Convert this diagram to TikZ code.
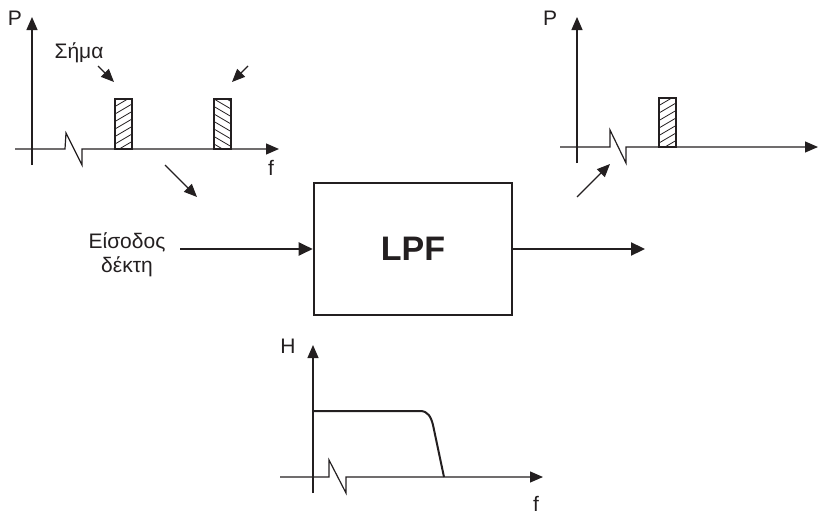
\documentclass[tikz,border=0pt]{standalone}
\usepackage{fontspec}
\setmainfont{Liberation Sans}
\usepackage{xcolor}
\usetikzlibrary{arrows.meta}
\definecolor{ink}{RGB}{35,31,32}

\begin{document}
\begin{tikzpicture}[x=1pt, y=-1pt, color=ink, >={Triangle[length=13pt,width=11pt]},
    axis/.style={line width=1.2pt},
    lbl/.style={font=\fontsize{21}{25}\selectfont, anchor=base, inner sep=0pt},
    pointer/.style={->, line width=1.3pt},
    signal/.style={line width=2.3pt, -{Triangle[length=14pt,width=13pt]}},
    filterbox/.style={draw, line width=2.6pt, minimum width=198pt, minimum height=132pt,
      font=\fontsize{34}{40}\selectfont\bfseries}]
    \useasboundingbox (0,0) rectangle (820,514);
    \pgfmathsetmacro{\bw}{17}
    \draw[axis,->] (32,165) -- (32,17);
    \draw[axis,->] (15,149) -- (65,149) -- (66,133) -- (82,165) -- (82,149) -- (279,149);
    \draw[axis,->] (577,163) -- (577,17);
    \draw[axis,->] (560,147) -- (610,147) -- (610,130) -- (626,163) -- (626,147) -- (818,147);
    \draw[axis,->] (313,493) -- (313,345);
    \draw[axis,->] (280,477) -- (329,477) -- (329,460) -- (346,493) -- (346,477) -- (543,477);
    \foreach \bx/\bt/\bb/\s in {115/99/149/1, 214/99/149/-1, 659/98/147/1} {
      \begin{scope}
        \clip (\bx,\bt) rectangle ({\bx+\bw},\bb);
        \foreach \k in {-2,...,9}
          \draw[line width=0.8pt] (\bx,{\bt+\k*7.5}) -- ++(\bw,{-\s*10});
      \end{scope}
      \draw[axis] (\bx,\bt) rectangle ({\bx+\bw},\bb);
    }
    \draw[line width=2pt] (313,411) -- (420,411)
      .. controls (428,411) and (431,417) .. (433,425) -- (444,477);
    \node[lbl] (pleft) at (15,25) {P};
    \node[lbl] (sigma) at (79,58) {Σήμα};
    \node[lbl] (fleft) at (271,175) {f};
    \node[lbl] (pright) at (550,25) {P};
    \node[lbl] (hlow) at (288,353) {H};
    \node[lbl] (flow) at (536,511) {f};
    \node[lbl] (inword) at (127,248) {Είσοδος};
    \node[lbl] (rxword) at (127,272) {δέκτη};
    \node[filterbox] (lpf) at (413,249) {LPF};
    \coordinate (src) at (180,249);
    \coordinate (dst) at (645,249);
    \draw[signal] (src) -- (lpf.west);
    \draw[signal] (lpf.east) -- (dst);
    \coordinate (p1a) at (98,66);
    \coordinate (p1b) at (114,82);
    \coordinate (p2a) at (248,66);
    \coordinate (p2b) at (232,82);
    \coordinate (p3a) at (165,165);
    \coordinate (p3b) at (197,197);
    \coordinate (p4a) at (577,197);
    \coordinate (p4b) at (610,164);
    \draw[pointer] (p1a) -- (p1b);
    \draw[pointer] (p2a) -- (p2b);
    \draw[pointer] (p3a) -- (p3b);
    \draw[pointer] (p4a) -- (p4b);
\end{tikzpicture}
\end{document}
